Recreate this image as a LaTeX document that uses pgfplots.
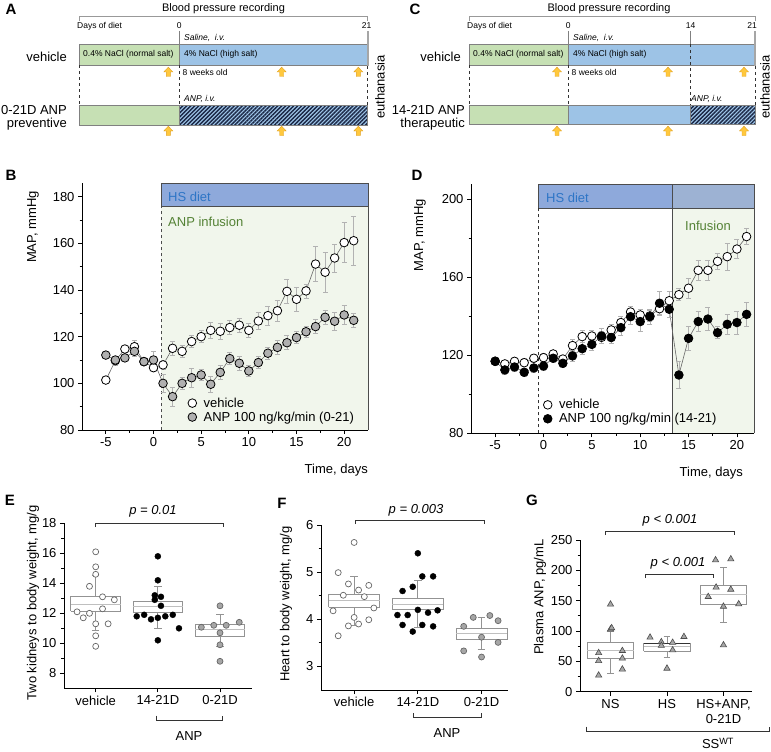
\documentclass[border=0pt]{standalone}
\usepackage{pgfplots}
\pgfplotsset{compat=1.18}
\usetikzlibrary{patterns.meta}
\usepackage{fontspec}
\setmainfont{Liberation Sans}
\definecolor{greenbar}{HTML}{C6E0B4}
\definecolor{bluebar}{HTML}{9DC3E6}
\definecolor{barborder}{HTML}{808080}
\definecolor{arrfill}{HTML}{FFC83D}
\definecolor{arrdraw}{HTML}{E0A020}
\definecolor{hatch}{HTML}{1A2745}
\definecolor{hsband}{HTML}{8EA9DB}
\definecolor{hsband2}{HTML}{9DB2D3}
\definecolor{hsblue}{HTML}{2E75C6}
\definecolor{infgreen}{HTML}{548235}
\definecolor{shadegr}{HTML}{F1F6EC}
\definecolor{mgray}{HTML}{B0B0B0}
\definecolor{tgray}{HTML}{A6A6A6}
\newcommand\fs{\fontsize{13}{15}\selectfont}
\newcommand\fsm{\fontsize{8.5}{10}\selectfont}
\newcommand\fsl{\fontsize{15}{17}\selectfont\bfseries}
\newcommand\uparr[2]{\filldraw[fill=arrfill, draw=arrdraw, line width=0.4pt] (#1-2,#2+4.5) -- (#1-2,#2) -- (#1-4.5,#2) -- (#1,#2-4.8) -- (#1+4.5,#2) -- (#1+2,#2) -- (#1+2,#2+4.5) -- cycle;}
\pgfplotsset{
  myaxis/.style={scale only axis, anchor=south west, clip=false, axis on top,
    axis x line*=bottom, axis y line*=left, tick align=outside,
    axis line style={black, line width=0.8pt}, tick style={black, line width=0.8pt},
    major tick length=4pt, minor tick length=2.5pt,
    tick label style={font=\fs}, /pgf/number format/assume math mode=true},
  ebar/.style={error bars/.cd, y dir=both, y explicit,
    error bar style={gray!60, line width=0.7pt},
    error mark options={rotate=90, mark size=2.5pt, gray!60, line width=0.7pt}},
  bxs/.style={draw=gray!85, line width=0.8pt, no marks, unbounded coords=jump, forget plot},
  bxm/.style={draw=gray!50, line width=0.8pt, no marks, forget plot},
}
\begin{document}
\begin{tikzpicture}
\begin{scope}[x=1pt,y=-1pt]
%================ Panel A =================
\node[font=\fsl] at (11,9) {A};
\node[font=\fontsize{11}{13}\selectfont] at (223.5,9) {Blood pressure recording};
\draw[gray!80, line width=0.6pt] (79.3,21.5) -- (79.3,16.7) -- (367.7,16.7) -- (367.7,21.5);
\node[anchor=west, font=\fsm, inner sep=0] at (77,26) {Days of diet};
\node[font=\fsm] at (179.3,26) {0};
\node[font=\fsm] at (366.5,26) {21};
\draw[gray, line width=0.5pt] (179.3,31) -- (179.3,44);
\filldraw[fill=greenbar, draw=barborder, line width=0.6pt] (79.3,44) rectangle (179.3,65.3);
\filldraw[fill=bluebar, draw=barborder, line width=0.6pt] (179.3,44) rectangle (367.7,65.3);
\draw[gray!70, line width=1.6pt] (367.7,31) -- (367.7,66);
\draw[dashed, gray!40!black, line width=0.5pt] (79.3,65.3) -- (79.3,105) (179.3,65.3) -- (179.3,105) (367.7,66) -- (367.7,105);
\filldraw[fill=greenbar, draw=barborder, line width=0.6pt] (79.3,105) rectangle (179.3,125);
\fill[bluebar] (179.3,105) rectangle (367.7,125);
\fill[pattern={Lines[angle=45,distance=2.8pt,line width=1.4pt]}, pattern color=hatch] (179.3,105) rectangle (367.7,125);
\draw[barborder, line width=0.6pt] (179.3,105) rectangle (367.7,125);
\node[anchor=west, font=\fsm\itshape, inner sep=0] at (184,38) {Saline,\ \ i.v.};
\node[anchor=west, font=\fsm, inner sep=0] at (83,54.5) {0.4\% NaCl (normal salt)};
\node[anchor=west, font=\fsm, inner sep=0] at (184,54.5) {4\% NaCl (high salt)};
\node[anchor=west, font=\fsm, inner sep=0] at (182.5,72.5) {8 weeks old};
\node[anchor=west, font=\fsm\itshape, inner sep=0] at (184,99) {ANP, i.v.};
\uparr{168.3}{72}\uparr{281.7}{72}\uparr{358.3}{72}
\uparr{168.3}{131}\uparr{281.7}{131}\uparr{358.3}{131}
\node[anchor=east, font=\fs, inner sep=0] at (67,57) {vehicle};
\node[anchor=east, font=\fs, inner sep=0] at (67,110) {0-21D ANP};
\node[anchor=east, font=\fs, inner sep=0] at (67,124.5) {preventive};
\node[rotate=90, font=\fs, inner sep=0] at (380,87) {euthanasia};
%================ Panel C =================
\node[font=\fsl] at (415,9) {C};
\node[font=\fontsize{11}{13}\selectfont] at (609,9) {Blood pressure recording};
\draw[gray!80, line width=0.6pt] (469,21.5) -- (469,16.7) -- (755,16.7) -- (755,21.5);
\node[anchor=west, font=\fsm, inner sep=0] at (467,26) {Days of diet};
\node[font=\fsm] at (568.3,26) {0};
\node[font=\fsm] at (690.7,26) {14};
\node[font=\fsm] at (752,26) {21};
\draw[gray, line width=0.5pt] (568.3,31) -- (568.3,44.3);
\draw[gray, line width=0.5pt] (690.7,31) -- (690.7,44.3);
\filldraw[fill=greenbar, draw=barborder, line width=0.6pt] (469,44.3) rectangle (568.3,65);
\filldraw[fill=bluebar, draw=barborder, line width=0.6pt] (568.3,44.3) rectangle (755,65);
\draw[gray!70, line width=1.6pt] (755,31) -- (755,66);
\draw[dashed, gray!40!black, line width=0.5pt] (469,65) -- (469,105) (568.3,65) -- (568.3,105) (690.7,44.3) -- (690.7,105) (755,66) -- (755,105);
\filldraw[fill=greenbar, draw=barborder, line width=0.6pt] (469,105) rectangle (568.3,124.5);
\filldraw[fill=bluebar, draw=barborder, line width=0.6pt] (568.3,105) rectangle (690.7,124.5);
\fill[bluebar] (690.7,105) rectangle (755,124.5);
\fill[pattern={Lines[angle=45,distance=2.8pt,line width=1.4pt]}, pattern color=hatch] (690.7,105) rectangle (755,124.5);
\draw[barborder, line width=0.6pt] (690.7,105) rectangle (755,124.5);
\node[anchor=west, font=\fsm\itshape, inner sep=0] at (573,38) {Saline,\ \ i.v.};
\node[anchor=west, font=\fsm, inner sep=0] at (473,54.5) {0.4\% NaCl (normal salt)};
\node[anchor=west, font=\fsm, inner sep=0] at (573,54.5) {4\% NaCl (high salt)};
\node[anchor=west, font=\fsm, inner sep=0] at (571.5,72.5) {8 weeks old};
\node[anchor=west, font=\fsm\itshape, inner sep=0] at (691,99) {ANP, i.v.};
\uparr{557}{72}\uparr{668}{72}\uparr{744}{72}
\uparr{557}{131}\uparr{668}{131}\uparr{744}{131}
\node[anchor=east, font=\fs, inner sep=0] at (461,57) {vehicle};
\node[anchor=east, font=\fs, inner sep=0] at (465,110) {14-21D ANP};
\node[anchor=east, font=\fs, inner sep=0] at (465,124.5) {therapeutic};
\node[rotate=90, font=\fs, inner sep=0] at (765,87) {euthanasia};
\node[font=\fsl] at (11,175) {B};
\node[font=\fsl] at (417,175) {D};
\end{scope}
%================ Panel B =================
\begin{axis}[myaxis, at={(82pt,-430pt)}, width=286pt, height=246.7pt,
  xmin=-7.5, xmax=22.5, ymin=80, ymax=185.7,
  xtick={-5,0,...,20}, ytick={80,100,...,180}, minor x tick num=1, minor y tick num=1,
  legend style={at={(0.37,0.14)}, anchor=north west, draw=none, fill=none, font=\fs,
    row sep=-1pt, inner sep=0pt}, legend cell align=left]
\fill[shadegr] (axis cs:0.8,80) rectangle (axis cs:22.5,175.7);
\filldraw[fill=hsband, draw=black!70, line width=0.8pt] (axis cs:0.8,175.7) rectangle (axis cs:22.5,185.7);
\draw[black!70, line width=0.8pt] (axis cs:0.8,175.7) -- (axis cs:22.5,175.7) -- (axis cs:22.5,80);
\draw[black!70, dashed, line width=0.7pt] (axis cs:0.8,80) -- (axis cs:0.8,175.7);
\addplot[forget plot, black!60, line width=0.6pt, mark=*, mark size=4.3pt,
  mark options={solid, fill=white, draw=black, line width=0.8pt}, ebar] coordinates {
(-5,101.4) +- (0,1.5) (-4,109.7) +- (0,2) (-3,114.7) +- (0,1.5) (-2,115.7) +- (0,2.5)
(-1,109.3) +- (0,1.5) (0,106.7) +- (0,1.5) (1,107.9) +- (0,2) (2,115) +- (0,3)
(3,113.7) +- (0,2.5) (4,117.9) +- (0,2.5) (5,120) +- (0,2.5) (6,122.7) +- (0,3.5)
(7,122.3) +- (0,3.5) (8,123.9) +- (0,3) (9,124.9) +- (0,3) (10,122.7) +- (0,3)
(11,126.7) +- (0,3.5) (12,129) +- (0,4) (13,131.1) +- (0,4.5) (14,139.4) +- (0,5)
(15,136) +- (0,5) (16,139.6) +- (0,3) (17,151.1) +- (0,7.5) (18,147.6) +- (0,8.5)
(19,153.7) +- (0,6) (20,160.3) +- (0,8.5) (21,161.1) +- (0,10.5)};
\addplot[forget plot, black!60, line width=0.6pt, mark=*, mark size=4.3pt,
  mark options={solid, fill=mgray, draw=black, line width=0.8pt}, ebar] coordinates {
(-5,112.1) +- (0,1.5) (-4,110) +- (0,1.5) (-3,110.9) +- (0,1.5) (-2,113.7) +- (0,2)
(-1,109.3) +- (0,1.5) (0,110) +- (0,3.5) (1,100) +- (0,4) (2,94.3) +- (0,4)
(3,100) +- (0,2.5) (4,102.4) +- (0,4) (5,103.6) +- (0,2.5) (6,99.6) +- (0,3.5)
(7,104.7) +- (0,3) (8,110.6) +- (0,2.5) (9,108.6) +- (0,3) (10,105.3) +- (0,2.5)
(11,108.9) +- (0,2.5) (12,112.9) +- (0,2.5) (13,115.4) +- (0,3) (14,117.4) +- (0,3)
(15,119.6) +- (0,2.5) (16,122.1) +- (0,2.5) (17,124.3) +- (0,3) (18,128.3) +- (0,3)
(19,126.6) +- (0,4) (20,129.3) +- (0,4) (21,127) +- (0,3)};
\addlegendimage{only marks, mark=*, mark size=4.3pt, mark options={fill=white, draw=black, line width=0.8pt}}
\addlegendentry{\hspace{5pt}vehicle}
\addlegendimage{only marks, mark=*, mark size=4.3pt, mark options={fill=mgray, draw=black, line width=0.8pt}}
\addlegendentry{\hspace{5pt}ANP 100 ng/kg/min (0-21)}
\end{axis}
%================ Panel D =================
\begin{axis}[myaxis, at={(471pt,-433.3pt)}, width=283.3pt, height=249pt,
  xmin=-7.5, xmax=21.8, ymin=80, ymax=207.7,
  xtick={-5,0,...,20}, ytick={80,120,160,200}, minor x tick num=1, minor y tick num=1,
  legend style={at={(0.255,0.145)}, anchor=north west, draw=none, fill=none, font=\fs,
    row sep=-1pt, inner sep=0pt}, legend cell align=left]
\fill[shadegr] (axis cs:13.3,80) rectangle (axis cs:21.8,195.4);
\filldraw[fill=hsband, draw=black!70, line width=0.8pt] (axis cs:-0.5,195.4) rectangle (axis cs:13.3,207.7);
\filldraw[fill=hsband2, draw=black!70, line width=0.8pt] (axis cs:13.3,195.4) rectangle (axis cs:21.8,207.7);
\draw[black!70, line width=0.8pt] (axis cs:13.3,80) -- (axis cs:13.3,195.4);
\draw[black!70, line width=0.8pt] (axis cs:21.8,80) -- (axis cs:21.8,195.4);
\draw[black!80, dashed, line width=0.7pt] (axis cs:-0.5,80) -- (axis cs:-0.5,195.4);
\addplot[forget plot, black!60, line width=0.6pt, mark=*, mark size=4.3pt,
  mark options={solid, fill=white, draw=black, line width=0.8pt}, ebar] coordinates {
(-5,117) +- (0,2) (-4,115.6) +- (0,2) (-3,116.9) +- (0,2) (-2,116.2) +- (0,2)
(-1,118.5) +- (0,2) (0,118.8) +- (0,2) (1,120.7) +- (0,2) (2,118.1) +- (0,2)
(3,125) +- (0,3) (4,129.6) +- (0,3) (5,129.9) +- (0,3) (6,129.2) +- (0,3)
(7,133) +- (0,3) (8,136.8) +- (0,3) (9,142.2) +- (0,3) (10,140.7) +- (0,3)
(11,140.2) +- (0,3) (12,143.9) +- (0,3) (13,148) +- (0,5) (14,151.1) +- (0,3)
(15,154.4) +- (0,5) (16,163.6) +- (0,5) (17,163.6) +- (0,5) (18,168.2) +- (0,4)
(19,170.6) +- (0,7) (20,174.5) +- (0,5) (21,180.9) +- (0,4)};
\addplot[forget plot, black!60, line width=0.6pt, mark=*, mark size=4.3pt,
  mark options={solid, fill=black, draw=black, line width=0.8pt}, ebar] coordinates {
(-5,116.9) +- (0,2) (-4,112.5) +- (0,2.5) (-3,114) +- (0,2) (-2,111.3) +- (0,2)
(-1,113.5) +- (0,2) (0,114.5) +- (0,2) (1,118.5) +- (0,2) (2,115.9) +- (0,2)
(3,119.7) +- (0,3) (4,123.4) +- (0,3) (5,125.6) +- (0,3) (6,129.9) +- (0,4)
(7,129.1) +- (0,3) (8,134.2) +- (0,4) (9,139.8) +- (0,4) (10,137.3) +- (0,5)
(11,139.8) +- (0,4) (12,146.7) +- (0,6) (13,143.6) +- (0,4) (14,109.9) +- (0,7)
(15,128.7) +- (0,6) (16,137.3) +- (0,5) (17,138.6) +- (0,6) (18,131.6) +- (0,3)
(19,135.9) +- (0,5) (20,136.8) +- (0,6) (21,141) +- (0,6)};
\addlegendimage{only marks, mark=*, mark size=4.3pt, mark options={fill=white, draw=black, line width=0.8pt}}
\addlegendentry{\hspace{5pt}vehicle}
\addlegendimage{only marks, mark=*, mark size=4.3pt, mark options={fill=black, draw=black, line width=0.8pt}}
\addlegendentry{\hspace{5pt}ANP 100 ng/kg/min (14-21)}
\end{axis}
%================ Panel E =================
\begin{axis}[myaxis, at={(64pt,-688.3pt)}, width=187.7pt, height=165pt,
  xmin=0.49, xmax=3.51, ymin=7, ymax=18,
  xtick={1,2,3}, xticklabels={vehicle,14-21D,0-21D}, ytick={8,10,...,18}, minor y tick num=1]
\addplot[bxs] coordinates {(0.6,12.16) (1.4,12.16) (1.4,13.1) (0.6,13.1) (0.6,12.16) (1,nan)
 (1,13.1) (1,14.5) (1,nan) (0.94,14.5) (1.06,14.5) (1,nan) (1,12.16) (1,10.85) (1,nan) (0.94,10.85) (1.06,10.85)};
\addplot[bxm] coordinates {(0.6,12.6) (1.4,12.6)};
\addplot[bxs] coordinates {(1.6,12.04) (2.4,12.04) (2.4,12.82) (1.6,12.82) (1.6,12.04) (2,nan)
 (2,12.82) (2,13.8) (2,nan) (1.94,13.8) (2.06,13.8) (2,nan) (2,12.04) (2,11.0) (2,nan) (1.94,11.0) (2.06,11.0)};
\addplot[bxm] coordinates {(1.6,12.44) (2.4,12.44)};
\addplot[bxs] coordinates {(2.6,10.44) (3.4,10.44) (3.4,11.27) (2.6,11.27) (2.6,10.44) (3,nan)
 (3,11.27) (3,11.93) (3,nan) (2.94,11.93) (3.06,11.93) (3,nan) (3,10.44) (3,9.8) (3,nan) (2.94,9.8) (3.06,9.8)};
\addplot[bxm] coordinates {(2.6,10.9) (3.4,10.9)};
\addplot[only marks, mark=*, mark size=3pt, mark options={fill=white, draw=gray!80!black, line width=0.7pt}] coordinates {
(1.0,16.1) (1.0,15.1) (1.0,14.6) (0.9,13.8) (1.11,13.1) (1.3,12.9) (1.11,12.3)
(0.7,12.1) (0.9,12.0) (0.8,11.7) (1.0,11.3) (1.2,11.3) (1.0,10.5) (1.0,9.8)};
\addplot[only marks, mark=*, mark size=3pt, mark options={fill=black, draw=black}] coordinates {
(2.0,15.8) (2.0,14.2) (1.95,13.2) (2.05,13.1) (1.95,12.9) (2.05,12.5) (1.66,11.8)
(1.78,11.9) (1.89,11.6) (2.0,11.7) (2.12,11.8) (2.24,11.9) (2.34,11.0) (2.0,10.2)};
\addplot[only marks, mark=*, mark size=3pt, mark options={fill=tgray, draw=gray!80!black, line width=0.7pt}] coordinates {
(3.0,12.5) (2.7,11.07) (2.9,11.2) (3.1,11.2) (3.31,11.4) (3.0,10.7) (3.0,9.9) (3.0,8.8)};
\end{axis}
%================ Panel F =================
\begin{axis}[myaxis, at={(321pt,-690pt)}, width=187.3pt, height=165pt,
  xmin=0.48, xmax=3.42, ymin=2.5, ymax=6,
  xtick={1,2,3}, xticklabels={vehicle,14-21D,0-21D}, ytick={3,4,5,6}, minor y tick num=1]
\addplot[bxs] coordinates {(0.6,4.26) (1.4,4.26) (1.4,4.53) (0.6,4.53) (0.6,4.26) (1,nan)
 (1,4.53) (1,4.92) (1,nan) (0.94,4.92) (1.06,4.92) (1,nan) (1,4.26) (1,3.88) (1,nan) (0.94,3.88) (1.06,3.88)};
\addplot[bxm] coordinates {(0.6,4.4) (1.4,4.4)};
\addplot[bxs] coordinates {(1.6,4.2) (2.4,4.2) (2.4,4.45) (1.6,4.45) (1.6,4.2) (2,nan)
 (2,4.45) (2,4.82) (2,nan) (1.94,4.82) (2.06,4.82) (2,nan) (2,4.2) (2,3.83) (2,nan) (1.94,3.83) (2.06,3.83)};
\addplot[bxm] coordinates {(1.6,4.32) (2.4,4.32)};
\addplot[bxs] coordinates {(2.6,3.58) (3.4,3.58) (3.4,3.81) (2.6,3.81) (2.6,3.58) (3,nan)
 (3,3.81) (3,4.04) (3,nan) (2.94,4.04) (3.06,4.04) (3,nan) (3,3.58) (3,3.37) (3,nan) (2.94,3.37) (3.06,3.37)};
\addplot[bxm] coordinates {(2.6,3.71) (3.4,3.71)};
\addplot[only marks, mark=*, mark size=3pt, mark options={fill=white, draw=gray!80!black, line width=0.7pt}] coordinates {
(1.0,5.63) (0.75,4.99) (0.91,4.75) (1.07,4.62) (1.23,4.72) (0.83,4.51) (1.16,4.48)
(0.67,4.18) (1.31,4.24) (1.0,4.04) (0.91,3.86) (1.07,3.9) (1.23,3.99) (0.75,3.65)};
\addplot[only marks, mark=*, mark size=3pt, mark options={fill=black, draw=black}] coordinates {
(2.0,5.4) (2.07,4.91) (2.24,4.91) (1.92,4.69) (1.76,4.6) (1.68,4.09) (1.84,4.09)
(2.0,4.2) (2.16,4.14) (2.31,4.19) (1.76,3.88) (1.92,3.74) (2.07,3.88) (2.24,3.85)};
\addplot[only marks, mark=*, mark size=3pt, mark options={fill=tgray, draw=gray!80!black, line width=0.7pt}] coordinates {
(2.72,3.85) (2.87,4.04) (3.13,4.08) (3.26,3.97) (3.0,3.62) (2.72,3.33) (3.26,3.51) (3.0,3.2)};
\end{axis}
%================ Panel G =================
\begin{axis}[myaxis, at={(580pt,-691.7pt)}, width=171.7pt, height=151.7pt,
  xmin=0.46, xmax=3.5, ymin=0, ymax=250,
  xtick={1,2,3}, xticklabels={NS,HS,{HS+ANP,\\0-21D}}, xticklabel style={align=center},
  ytick={0,50,...,250}, minor y tick num=1]
\addplot[bxs] coordinates {(0.59,55) (1.41,55) (1.41,81) (0.59,81) (0.59,55) (1,nan)
 (1,81) (1,99) (1,nan) (0.94,99) (1.06,99) (1,nan) (1,55) (1,30) (1,nan) (0.94,30) (1.06,30)};
\addplot[bxm] coordinates {(0.59,67.5) (1.41,67.5)};
\addplot[bxs] coordinates {(1.59,67) (2.41,67) (2.41,79.6) (1.59,79.6) (1.59,67) (2,nan)
 (2,79.6) (2,91.7) (2,nan) (1.94,91.7) (2.06,91.7) (2,nan) (2,67) (2,56) (2,nan) (1.94,56) (2.06,56)};
\addplot[draw=black!80, line width=0.8pt, no marks, forget plot] coordinates {(1.59,79.6) (2.41,79.6)};
\addplot[bxm] coordinates {(1.59,74) (2.41,74)};
\addplot[bxs] coordinates {(2.59,143.8) (3.41,143.8) (3.41,175.7) (2.59,175.7) (2.59,143.8) (3,nan)
 (3,175.7) (3,204.8) (3,nan) (2.94,204.8) (3.06,204.8) (3,nan) (3,143.8) (3,114.2) (3,nan) (2.94,114.2) (3.06,114.2)};
\addplot[bxm] coordinates {(2.59,160.3) (3.41,160.3)};
\addplot[only marks, mark=triangle*, mark size=3.6pt, mark options={fill=tgray, draw=gray!60!black, line width=0.6pt}] coordinates {
(1.0,144) (1.0,103) (1.02,105) (0.79,64) (1.21,67.5) (0.79,51) (1.21,55) (1.21,37) (0.79,27)
(1.7,89.5) (1.9,82) (2.1,81) (2.3,90.6) (1.9,76) (2.1,68.6) (2.0,38.4)
(2.86,217) (3.13,218.5) (2.87,172) (3.13,168.5) (2.73,156.5) (3.0,140.5) (3.27,144.4) (3.0,76.9)};
\end{axis}
\begin{scope}[x=1pt,y=-1pt]
% B texts
\node[anchor=west, text=hsblue, font=\fs, inner sep=0] at (168,197) {HS diet};
\node[anchor=west, text=infgreen, font=\fs, inner sep=0] at (168,222) {ANP infusion};
\node[rotate=90, font=\fs, inner sep=0] at (33,227) {MAP, mmHg};
\node[anchor=east, font=\fs, inner sep=0] at (368,470) {Time, days};
% D texts
\node[anchor=west, text=hsblue, font=\fs, inner sep=0] at (546,198) {HS diet};
\node[anchor=west, text=infgreen, font=\fs, inner sep=0] at (685,226) {Infusion};
\node[rotate=90, font=\fs, inner sep=0] at (420,235) {MAP, mmHg};
\node[anchor=east, font=\fs, inner sep=0] at (743,473) {Time, days};
% E
\node[font=\fsl] at (10,500) {E};
\node[rotate=90, font=\fs, inner sep=0] at (33,603) {Two kidneys to body weight, mg/g};
\draw[black!80, line width=0.7pt] (95.7,527) -- (95.7,523.3) -- (223,523.3) -- (223,527);
\node[font=\fs\itshape] at (153,511) {p = 0.01};
\draw[black!80, line width=0.7pt] (156,715.5) -- (156,720) -- (222,720) -- (222,715.5);
\node[font=\fs] at (189,736) {ANP};
% F
\node[font=\fsl] at (282,503) {F};
\node[rotate=90, font=\fs, inner sep=0] at (286,604) {Heart to body weight, mg/g};
\draw[black!80, line width=0.7pt] (355,524) -- (355,520) -- (484,520) -- (484,524);
\node[font=\fs\itshape] at (416,510) {p = 0.003};
\draw[black!80, line width=0.7pt] (413,713) -- (413,717.7) -- (481,717.7) -- (481,713);
\node[font=\fs] at (447,733) {ANP};
% G
\node[font=\fsl] at (532,500) {G};
\node[rotate=90, font=\fs, inner sep=0] at (540,597) {Plasma ANP, pg/mL};
\draw[black!80, line width=0.7pt] (605.7,535) -- (605.7,531) -- (734.3,531) -- (734.3,535);
\node[font=\fs\itshape] at (670,520) {p < 0.001};
\draw[black!80, line width=0.7pt] (645.7,578) -- (645.7,574.3) -- (713.3,574.3) -- (713.3,578);
\node[font=\fs\itshape] at (678,563) {p < 0.001};
\draw[black!80, line width=0.7pt] (586,726.5) -- (586,731.7) -- (769.3,731.7) -- (769.3,726.5);
\node[font=\fs, inner sep=0] at (718,743.5) {SS\textsuperscript{WT}};
\end{scope}
\pgfresetboundingbox
\path[use as bounding box] (0pt,0pt) rectangle (771pt,-752pt);
\end{tikzpicture}
\end{document}
